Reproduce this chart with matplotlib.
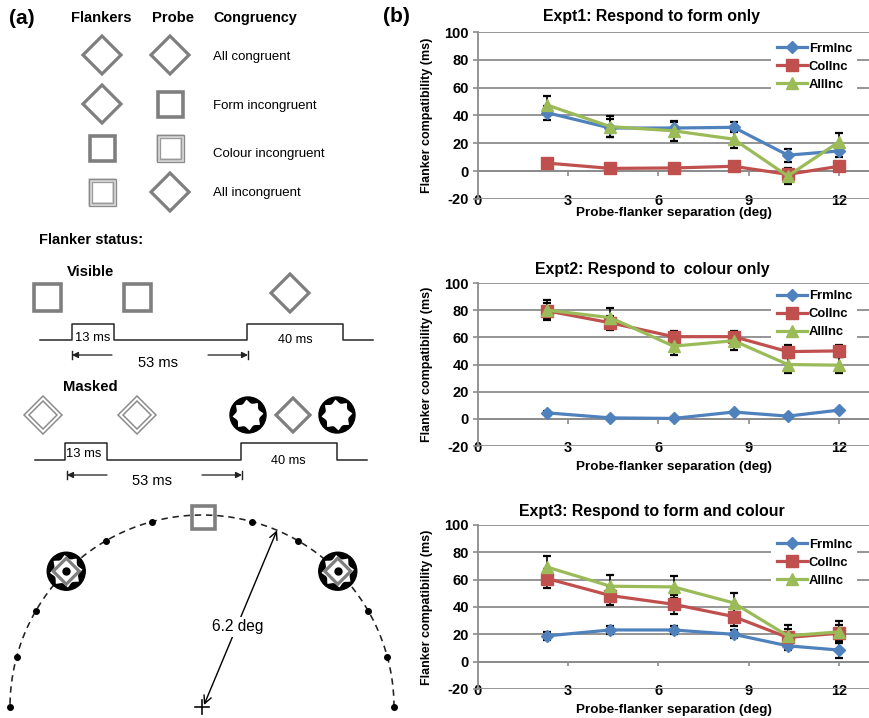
import numpy as np
import matplotlib.pyplot as plt
from matplotlib.patches import Polygon, Rectangle, Circle

plt.rcParams['font.family'] = ['Liberation Sans', 'DejaVu Sans']
plt.rcParams['axes.unicode_minus'] = False

# ---- data for panel (b) ----
separation = [2.3, 4.4, 6.5, 8.5, 10.3, 12.0]
x_ticks = [0, 3, 6, 9, 12]
y_ticks = [-20, 0, 20, 40, 60, 80, 100]
series_names = ['FrmInc', 'ColInc', 'AllInc']
titles = ['Expt1: Respond to form only',
          'Expt2: Respond to  colour only',
          'Expt3: Respond to form and colour']

expt1_frm = [42.0, 31.0, 31.0, 31.5, 11.5, 14.5]
expt1_col = [5.8, 2.0, 2.3, 3.5, -2.3, 3.5]
expt1_all = [47.5, 32.0, 29.0, 23.0, -3.5, 21.0]
expt1_frm_err = [5.0, 6.5, 4.5, 3.5, 4.7, 4.2]
expt1_col_err = [1.5, 1.5, 1.5, 1.5, 1.5, 1.5]
expt1_all_err = [6.5, 7.5, 7.0, 6.0, 5.8, 6.4]

expt2_frm = [4.4, 0.7, 0.3, 5.0, 2.0, 6.4]
expt2_col = [79.5, 70.7, 60.5, 60.5, 49.5, 50.0]
expt2_all = [80.0, 74.5, 53.5, 57.5, 40.0, 39.5]
expt2_frm_err = [1.0, 1.0, 1.0, 1.0, 1.0, 1.0]
expt2_col_err = [5.5, 5.0, 4.5, 4.5, 4.5, 4.5]
expt2_all_err = [7.3, 7.0, 6.5, 6.5, 6.0, 6.0]

expt3_frm = [18.9, 23.2, 23.2, 20.0, 11.6, 8.5]
expt3_col = [60.8, 48.4, 42.0, 33.0, 17.7, 20.8]
expt3_all = [69.2, 55.2, 54.7, 43.0, 18.9, 21.8]
expt3_frm_err = [3.0, 3.0, 3.0, 3.0, 3.0, 6.0]
expt3_col_err = [7.0, 7.0, 7.0, 7.0, 6.0, 6.0]
expt3_all_err = [8.0, 8.0, 8.0, 7.0, 8.0, 8.0]

expt_values = [(expt1_frm, expt1_col, expt1_all),
               (expt2_frm, expt2_col, expt2_all),
               (expt3_frm, expt3_col, expt3_all)]
expt_errors = [(expt1_frm_err, expt1_col_err, expt1_all_err),
               (expt2_frm_err, expt2_col_err, expt2_all_err),
               (expt3_frm_err, expt3_col_err, expt3_all_err)]

# ---- labels for panel (a) ----
congruency = ['All congruent', 'Form incongruent', 'Colour incongruent', 'All incongruent']
flanker_shapes = ['diamond', 'diamond', 'square', 'double']
probe_shapes = ['diamond', 'square', 'double', 'diamond']
arc_dot_angles = [0, 15, 30, 60, 75, 105, 120, 150, 165, 180]
mask_angles = [45, 135]

colors = ['#4f81bd', '#c0504d', '#9bbb59']
markers = ['D', 's', '^']
msizes = [6.5, 8, 8.5]
GRID = '#8c8c8c'
GRAY = '#7f7f7f'
PX = 0.72  # points per pixel at 100 dpi

fig = plt.figure(figsize=(8.69, 7.18), dpi=100)


# ---------- panel (a): schematic drawn in pixel units ----------
sk = fig.add_axes([0, 0, 420 / 869, 1])
sk.set_xlim(0, 420)
sk.set_ylim(718, 0)
sk.axis('off')


def diamond(cx, cy, h, color=GRAY, lw=3.2, z=3):
    sk.add_patch(Polygon([(cx, cy - h), (cx + h, cy), (cx, cy + h), (cx - h, cy)],
                         closed=True, fill=False, ec=color, lw=lw * PX, zorder=z,
                         joinstyle='miter'))


def square(cx, cy, s, color=GRAY, lw=3.6, z=3):
    sk.add_patch(Rectangle((cx - s / 2, cy - s / 2), s, s, fill=False, ec=color,
                           lw=lw * PX, zorder=z, joinstyle='miter'))


def double_square(cx, cy, s):
    square(cx, cy, s - 3, color='#d2d2d2', lw=3.5)
    square(cx, cy, s, color='#8a8a8a', lw=1.3)
    square(cx, cy, s - 6, color='#9a9a9a', lw=1.3)


def double_diamond(cx, cy, h):
    diamond(cx, cy, h, color='#8a8a8a', lw=1.5)
    diamond(cx, cy, h - 5, color='#8a8a8a', lw=1.5)


def mask(cx, cy, r, z=3):
    sk.add_patch(Circle((cx, cy), r, color='black', zorder=z))
    th = np.linspace(0, 2 * np.pi, 480)
    rr = r * (0.86 - 0.2 * np.abs(np.sin(4 * th + np.pi / 8)))
    sk.add_patch(Polygon(np.column_stack([cx + rr * np.cos(th), cy + rr * np.sin(th)]),
                         closed=True, fc='white', ec='none', zorder=z))


def draw_shape(kind, cx, cy):
    if kind == 'diamond':
        diamond(cx, cy, 19)
    elif kind == 'square':
        square(cx, cy, 25)
    else:
        double_square(cx, cy, 27)


def pulse(y0, y1, xs):
    a, r1, f1, r2, f2, b = xs
    px = [a, r1, r1, f1, f1, r2, r2, f2, f2, b]
    py = [y0, y0, y1, y1, y0, y0, y1, y1, y0, y0]
    sk.plot(px, py, color='#222222', lw=1.5 * PX)


def timing_arrows(y, left, right):
    for tail, head in [(left[1], left[0]), (right[0], right[1])]:
        sk.annotate('', xy=(head, y), xytext=(tail, y),
                    arrowprops=dict(arrowstyle='-|>', color='#222222', lw=1.3 * PX,
                                    mutation_scale=9, shrinkA=0, shrinkB=0))
        sk.plot([head, head], [y - 4, y + 4], color='#222222', lw=1.4 * PX)


sk.text(22, 18, '(a)', fontsize=15, fontweight='bold', ha='center', va='center')
sk.text(101, 18, 'Flankers', fontsize=10.6, fontweight='bold', ha='center', va='center')
sk.text(173, 18, 'Probe', fontsize=10.6, fontweight='bold', ha='center', va='center')
sk.text(213, 18, 'Congruency', fontsize=10.4, fontweight='bold', ha='left', va='center')

row_y = [55, 104, 148, 192]
label_y = [57, 106, 154, 193]
for ry, ly, fs, ps, lab in zip(row_y, label_y, flanker_shapes, probe_shapes, congruency):
    draw_shape(fs, 102, ry)
    draw_shape(ps, 170, ry)
    sk.text(213, ly, lab, fontsize=9.5, ha='left', va='center')

# flanker status timelines
sk.text(39, 240, 'Flanker status:', fontsize=10.5, fontweight='bold', va='center')
sk.text(67, 272, 'Visible', fontsize=10.7, fontweight='bold', va='center')
square(47, 297, 27)
square(137, 297, 27)
diamond(290, 293, 19)
pulse(340, 324, [40, 72, 114, 247, 343, 373])
sk.text(75, 338, '13 ms', fontsize=9.4, va='center')
sk.text(295, 340, '40 ms', fontsize=9.2, ha='center', va='center')
timing_arrows(355, (72, 112), (208, 248))
sk.text(158, 363, '53 ms', fontsize=10.6, ha='center', va='center')

sk.text(63, 387, 'Masked', fontsize=10.7, fontweight='bold', va='center')
double_diamond(43, 415, 19)
double_diamond(137, 415, 19)
mask(248, 415, 18)
diamond(293, 415, 17)
mask(337, 415, 18)
pulse(460, 443, [35, 65, 107, 241, 337, 367])
sk.text(66, 454, '13 ms', fontsize=9.4, va='center')
sk.text(288, 461, '40 ms', fontsize=9.2, ha='center', va='center')
timing_arrows(475, (67, 107), (202, 242))
sk.text(152, 481, '53 ms', fontsize=10.6, ha='center', va='center')

# spatial layout: dashed arc around fixation
cx0, cy0, rad = 202, 707, 192
th = np.radians(np.linspace(0, 180, 300))
sk.plot(cx0 + rad * np.cos(th), cy0 - rad * np.sin(th), color='#222222',
        lw=1.6 * PX, dashes=(4, 3), zorder=2)
da = np.radians(arc_dot_angles)
sk.plot(cx0 + rad * np.cos(da), cy0 - rad * np.sin(da), 'o', color='black', ms=4, zorder=4)
for a in np.radians(mask_angles):
    mx, my = cx0 + rad * np.cos(a), cy0 - rad * np.sin(a)
    mask(mx, my, 19, z=3)
    diamond(mx, my, 13, z=4)
    sk.plot(mx, my, 'o', color='black', ms=5, zorder=5)
square(cx0 + 1, cy0 - rad + 2, 23, z=3)
tip = np.radians(67)
sk.annotate('', xy=(cx0 + rad * np.cos(tip), cy0 - rad * np.sin(tip)), xytext=(cx0 + 2, cy0 - 2),
            arrowprops=dict(arrowstyle='<->', color='black', lw=1.4 * PX, mutation_scale=14,
                            shrinkA=0, shrinkB=0), zorder=3)
sk.text(238, 627, '6.2 deg', fontsize=11.2, ha='center', va='center',
        bbox=dict(fc='white', ec='none', pad=1.5), zorder=4)
sk.plot([cx0 - 7, cx0 + 7], [cy0, cy0], color='black', lw=1.6 * PX)
sk.plot([cx0, cx0], [cy0 - 7, cy0 + 7], color='black', lw=1.6 * PX)

# ---------- panel (b): line charts ----------
fig.text(396 / 869, 1 - 17 / 718, '(b)', fontsize=15, fontweight='bold', ha='center', va='center')

axes_rect = [[478 / 869, (718 - 199) / 718, 391 / 869, 167 / 718],
             [478 / 869, (718 - 446) / 718, 391 / 869, 163 / 718],
             [478 / 869, (718 - 689) / 718, 391 / 869, 164 / 718]]
title_off = [11, 9.5, 9.5]
xlabel_off = [10, 15, 15]
legend_top = [0.967, 0.988, 0.948]

for i in range(3):
    ax = fig.add_axes(axes_rect[i])
    ax.set_xlim(0, 13)
    ax.set_ylim(-20, 100)
    ax.set_xticks(x_ticks)
    ax.set_yticks(y_ticks)
    ax.grid(axis='y', color=GRID, lw=1.3)
    ax.set_axisbelow(True)
    for s in ['top', 'right', 'bottom']:
        ax.spines[s].set_visible(False)
    ax.spines['left'].set_color(GRID)
    ax.spines['left'].set_linewidth(1.3)
    ax.tick_params(axis='y', length=3.5, color=GRID, width=1.2, pad=3, labelsize=10.5)
    ax.tick_params(axis='x', length=0, pad=-3.4, labelsize=10.5)
    for lab in ax.get_xticklabels() + ax.get_yticklabels():
        lab.set_fontweight('bold')
    # small tick marks on the zero line
    ax.vlines(x_ticks[1:], -3.5, 0, color=GRID, lw=1.2, zorder=1)
    ax.axhline(0, color=GRID, lw=1.3, zorder=1)

    handles = []
    for vals, err, c, m, ms, name in zip(expt_values[i], expt_errors[i], colors,
                                         markers, msizes, series_names):
        ax.errorbar(separation, vals, yerr=err, fmt='none', ecolor='black',
                    elinewidth=1.2, capsize=3, capthick=1.6, zorder=2)
        h, = ax.plot(separation, vals, color=c, lw=2.3, marker=m, ms=ms,
                     mec=c, mfc=c, label=name, zorder=3)
        handles.append(h)

    leg = ax.legend(handles=handles, loc='upper right', bbox_to_anchor=(0.97, legend_top[i]),
                    frameon=True, fancybox=False, framealpha=1, facecolor='white',
                    edgecolor='none', handlelength=2.3, handletextpad=0.15,
                    labelspacing=0.44, borderpad=0.4, borderaxespad=0,
                    prop=dict(weight='bold', size=9.4))
    leg.set_zorder(5)

    ax.annotate(titles[i], xy=(0.445, 1), xycoords='axes fraction',
                xytext=(0, title_off[i]), textcoords='offset points', ha='center',
                va='center', fontsize=11.4, fontweight='bold')
    ax.annotate('Probe-flanker separation (deg)', xy=(0.5, 0), xycoords='axes fraction',
                xytext=(0, -xlabel_off[i]), textcoords='offset points', ha='center',
                va='center', fontsize=9.7, fontweight='bold')
    ax.set_ylabel('Flanker compatibility (ms)', fontsize=9, fontweight='bold')
    ax.yaxis.label.set_va('center')
    ax.yaxis.set_label_coords(-51 / 391, 0.5)

fig.savefig('out.png', dpi=100)
